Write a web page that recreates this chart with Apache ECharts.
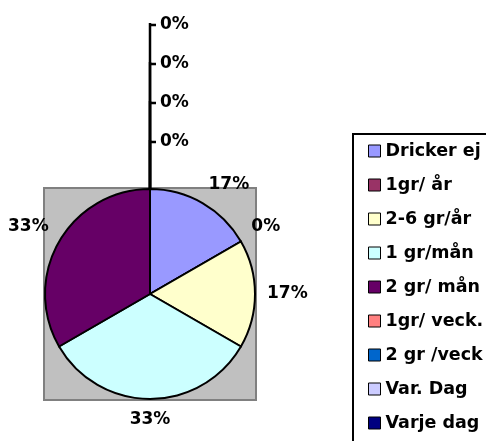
<!DOCTYPE html>
<html><head><meta charset="utf-8">
<script src="https://cdn.jsdelivr.net/npm/echarts@6.0.0/dist/echarts.min.js"></script>
<style>html,body{margin:0;padding:0;background:#fff}#c{width:486px;height:441px}</style>
</head><body><div id="c"></div>
<script>
const categories = ['Dricker ej','1gr/ år','2-6 gr/år','1 gr/mån','2 gr/ mån','1gr/ veck.','2 gr /veck','Var. Dag','Varje dag'];
const values = [1, 0, 1, 2, 2, 0, 0, 0, 0];
const colors = ['#9999FF','#993366','#FFFFCC','#CCFFFF','#660066','#FF8080','#0066CC','#CCCCFF','#000080'];

const CX = 150, CY = 294, R = 105;
const total = values.reduce((a, b) => a + b, 0);
const midAngles = [];
let acc = 0;
values.forEach(v => { midAngles.push((acc + v / 2) / total * 360); acc += v; });
const stackIdx = {};
let k = 0;
values.forEach((v, i) => { if (v === 0 && midAngles[i] > 359.99) { stackIdx[i] = k++; } });
const isStacked = i => stackIdx[i] !== undefined;

const FONT = 'DejaVu Sans';
const chart = echarts.init(document.getElementById('c'), null, {renderer: 'canvas'});
chart.setOption({
  animation: false,
  color: colors,
  graphic: [{
    type: 'rect', z: -1, silent: true,
    shape: {x: CX - 106, y: CY - 106, width: 212, height: 212},
    style: {fill: '#C0C0C0', stroke: '#808080', lineWidth: 2}
  }],
  legend: {
    orient: 'vertical', left: 353, top: 134, height: 330,
    data: categories, icon: 'rect', itemWidth: 12, itemHeight: 12, itemGap: 16,
    padding: [8, 40, 30, 15],
    borderColor: '#000', borderWidth: 2, backgroundColor: '#fff',
    selectedMode: false,
    textStyle: {fontFamily: FONT, fontWeight: 'bold', fontSize: 17.5, color: '#000'},
    itemStyle: {borderColor: '#000', borderWidth: 1}
  },
  series: [{
    type: 'pie', center: [CX, CY], radius: R, startAngle: 90, clockwise: true,
    avoidLabelOverlap: false, silent: true,
    data: categories.map((n, i) => ({name: n, value: values[i], labelLine: {show: isStacked(i)}})),
    itemStyle: {borderColor: '#000', borderWidth: 2},
    emphasis: {disabled: true},
    label: {
      show: true, position: 'outside',
      formatter: p => Math.round(p.percent) + '%',
      fontFamily: FONT, fontWeight: 'bold', fontSize: 17, color: '#000'
    },
    labelLine: {show: true, length: 5, length2: 5, lineStyle: {color: '#000', width: 2.5}},
    labelLayout: function (p) {
      const i = p.dataIndex;
      if (isStacked(i)) {
        const y = CY - R - 47 - stackIdx[i] * 39;
        return {x: CX + 10, y: y, align: 'left', verticalAlign: 'middle',
                labelLinePoints: [[CX, CY], [CX, y - 2], [CX, y], [CX + 6, y]]};
      }
      const rad = midAngles[i] * Math.PI / 180, d = R + 12;
      const s = Math.sin(rad), c = Math.cos(rad);
      return {
        x: CX + d * s, y: CY - d * c,
        align: Math.abs(s) < 0.1 ? 'center' : (s > 0 ? 'left' : 'right'),
        verticalAlign: Math.abs(c) < 0.1 ? 'middle' : (c > 0 ? 'bottom' : 'top')
      };
    }
  }]
});
</script>
</body></html>
